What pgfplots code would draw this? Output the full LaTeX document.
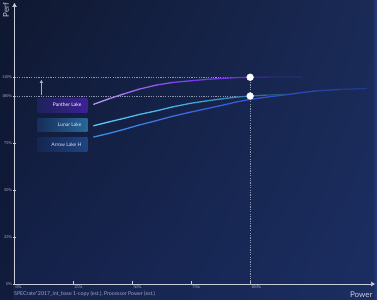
\documentclass[border=0pt]{standalone}
\usepackage{pgfplots}
\pgfplotsset{compat=1.18}
\usepackage{fontspec}
\setmainfont{Lato}
\newfontfamily\tickfont{Liberation Serif}
\usetikzlibrary{arrows.meta,shadings}
\definecolor{bgUL}{RGB}{15,24,48}
\definecolor{bgUR}{RGB}{26,42,86}
\definecolor{bgLL}{RGB}{20,33,74}
\definecolor{bgLR}{RGB}{27,46,98}
\definecolor{bgc}{RGB}{26,42,88}
\definecolor{axc}{RGB}{200,205,215}
\definecolor{dashc}{RGB}{140,150,172}
\definecolor{tickc}{RGB}{190,195,208}
\definecolor{capc}{RGB}{160,168,188}
\definecolor{pboxR}{RGB}{62,32,150}
\definecolor{pboxL}{RGB}{28,34,90}
\definecolor{lboxR}{RGB}{40,104,152}
\definecolor{lboxL}{RGB}{22,46,90}
\definecolor{aboxR}{RGB}{30,68,130}
\definecolor{aboxL}{RGB}{20,38,80}
\definecolor{edgec}{RGB}{36,64,128}
\pgfplotsset{
 colormap={purp}{rgb255(0cm)=(196,170,245) rgb255(3cm)=(160,110,240) rgb255(7cm)=(122,58,232) rgb255(11cm)=(108,45,222) rgb255(11.6cm)=(60,40,150) rgb255(14cm)=(30,42,95) rgb255(20cm)=(26,42,88)},
 colormap={lun}{rgb255(0cm)=(95,205,245) rgb255(7cm)=(70,170,225) rgb255(11cm)=(50,130,170) rgb255(14cm)=(30,60,100) rgb255(20cm)=(26,42,88)},
 colormap={arr}{rgb255(0cm)=(60,150,235) rgb255(6cm)=(60,110,225) rgb255(11cm)=(55,85,215) rgb255(15cm)=(45,70,180) rgb255(20cm)=(30,52,112)},
}
\begin{document}
\begin{tikzpicture}
\shade[upper left=bgUL, upper right=bgUR, lower left=bgLL, lower right=bgLR] (0bp,0bp) rectangle (377bp,300bp);
\fill[bgUL, opacity=0.5] (0bp,0bp) rectangle (13bp,300bp);
\shade[left color=bgLR, right color=edgec] (373bp,0bp) rectangle (377bp,300bp);
\begin{axis}[
  at={(14.5bp,16bp)}, anchor=south west,
  scale only axis, width=360.5bp, height=281bp,
  xmin=0, xmax=153, ymin=0, ymax=149.5,
  axis lines=left,
  x axis line style={draw=axc, line width=0.6pt, -{Triangle[width=4.5pt,length=4pt]}},
  y axis line style={draw=axc, line width=0.6pt, -{Triangle[width=4.5pt,length=4pt]}},
  xtick={0,25,50,75,100}, xticklabels={0\%,25\%,50\%,75\%,100\%},
  ytick={0,25,50,75,100,110}, yticklabels={0\%,25\%,50\%,75\%,100\%,110\%},
  /pgf/number format/assume math mode=true,
  ticklabel style={font=\tickfont\fontsize{4.3}{4.5}\selectfont, text=tickc, inner sep=0.5pt},
  xticklabel style={anchor=north west, xshift=0.5bp, yshift=0.5bp},
  yticklabel style={anchor=east, xshift=-0.5bp},
  major tick length=2.5bp,
  tick style={draw=axc, line width=0.4pt},
  x tick style={yshift=1.25bp},
  point meta min=30, point meta max=155,
  clip=false,
]
% dashed guide lines
\addplot[draw=dashc, dash pattern=on 1.2pt off 1.2pt, line width=0.45pt] coordinates {(0,110) (100,110)};
\addplot[draw=dashc, dash pattern=on 1.2pt off 1.2pt, line width=0.45pt] coordinates {(0,100) (100,100)};
\addplot[draw=dashc, dash pattern=on 1.2pt off 1.2pt, line width=0.45pt] coordinates {(100,110) (100,0)};
% label boxes
\shade[left color=pboxL, right color=pboxR] (axis cs:9.7,91.5) rectangle (axis cs:30.9,98.9);
\shade[left color=lboxL, right color=lboxR] (axis cs:9.7,80.9) rectangle (axis cs:30.9,88.3);
\shade[left color=aboxL, right color=aboxR] (axis cs:9.7,70.7) rectangle (axis cs:30.9,77.7);
\node[anchor=east, font=\fontsize{5}{6}\selectfont, text=white] at (axis cs:29.9,95.2) {Panther Lake};
\node[anchor=east, font=\fontsize{5}{6}\selectfont, text=white!88!blue] at (axis cs:29.9,84.6) {Lunar Lake};
\node[anchor=east, font=\fontsize{5}{6}\selectfont, text=white!88!blue] at (axis cs:29.9,74.2) {Arrow Lake H};
% up arrow
\draw[draw=white!62!bgc, line width=0.7pt, -{Triangle[width=3.2pt,length=3pt]}] (axis cs:11.4,100.6) -- (axis cs:11.4,108.6);
% curves
\addplot[mesh, colormap name=arr, point meta=x, line width=1.3pt, line cap=round] coordinates {
 (33.6,78.2) (40,80.1) (46.3,82.2) (53,84.6) (60.5,87.0) (67,89.2) (74.6,91.4) (82,93.4) (88.6,95.2) (94,96.8) (100,98.2) (107,99.4) (114,100.5) (121,101.7) (128,102.7) (138,103.5) (149.4,104.0)};
\addplot[mesh, colormap name=lun, point meta=x, line width=1.3pt, line cap=round] coordinates {
 (33.6,84.2) (40,86.2) (46.3,88.1) (53,90.2) (60.5,92.2) (67,94.2) (74.6,96.1) (82,97.5) (88.6,98.6) (94,99.4) (100,100) (107,100.5) (115,100.9)};
\addplot[mesh, colormap name=purp, point meta=x, line width=1.3pt, line cap=round] coordinates {
 (33.6,95.6) (40,98.5) (46.3,101.1) (53,103.7) (60.5,105.9) (67,107.2) (74.6,108.1) (82,108.9) (88.6,109.4) (94,109.8) (100,110) (110,110.1) (122,110.1)};
% dots
\addplot[only marks, mark=*, mark size=3.4bp, mark options={fill=white, draw=white}] coordinates {(100,110) (100,100)};
\end{axis}
\node[rotate=90, font=\fontsize{8}{9}\selectfont, text=axc] at (6bp,290bp) {Perf};
\node[anchor=east, font=\fontsize{8}{9}\selectfont, text=axc] at (376bp,5.5bp) {Power};
\node[anchor=west, font=\fontsize{5.3}{6}\selectfont, text=capc, inner sep=0pt] at (14bp,6.3bp) {SPECrate*2017\_int\_base 1-copy (est.), Processor Power (est.)};
\pgfresetboundingbox
\useasboundingbox (0bp,0bp) rectangle (377bp,300bp);
\end{tikzpicture}
\end{document}
